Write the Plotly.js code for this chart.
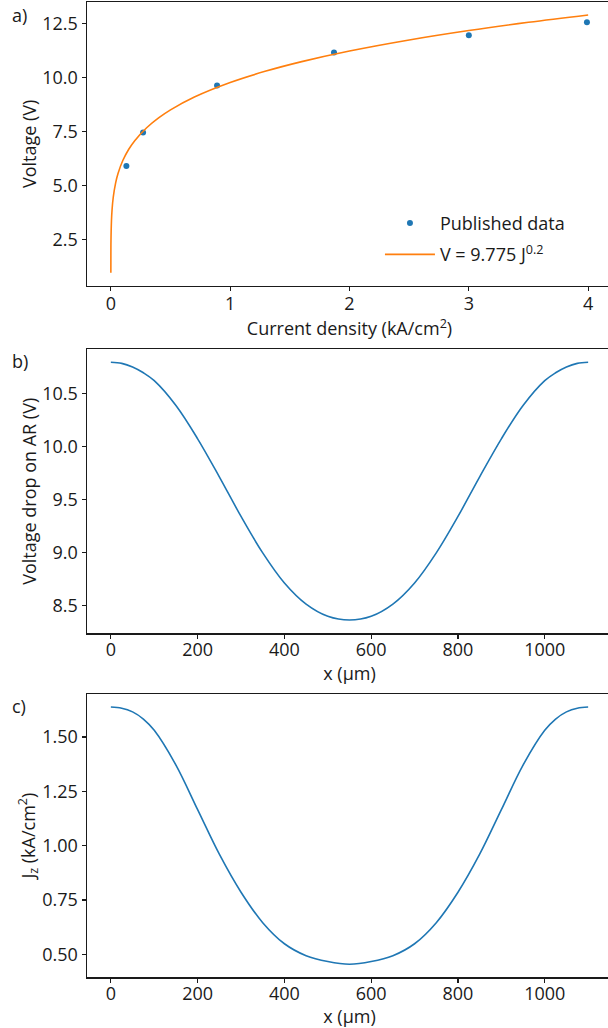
<!DOCTYPE html>
<html>
<head>
<meta charset="utf-8">
<script src="https://cdn.plot.ly/plotly-3.0.1.min.js"></script>
<style>
html,body{margin:0;padding:0;overflow:hidden;background:#fff;}
#chart{width:620px;height:1028px;}
</style>
</head>
<body>
<div id="chart"></div>
<script>
// Panel a: published data
const pubJ = [0.13, 0.27, 0.89, 1.87, 3.00, 3.99];
const pubV = [5.92, 7.46, 9.64, 11.16, 11.96, 12.56];
// Panel a: fit curve V = 9.775 J^0.2
const fitJ = [0.00001, 0.0001, 0.001, 0.005, 0.01, 0.02, 0.04, 0.06, 0.1, 0.15, 0.2, 0.3, 0.4, 0.5, 0.7, 1.0, 1.3, 1.6, 2.0, 2.5, 3.0, 3.5, 4.0];
const fitV = [0.978, 1.549, 2.455, 3.388, 3.892, 4.470, 5.135, 5.569, 6.168, 6.689, 7.085, 7.683, 8.138, 8.510, 9.103, 9.775, 10.302, 10.739, 11.229, 11.741, 12.177, 12.558, 12.898];
// Panels b and c: position across the device (µm)
const posX = [0, 25, 50, 75, 100, 150, 200, 250, 300, 350, 400, 450, 500, 550, 600, 650, 700, 750, 800, 850, 900, 950, 1000, 1025, 1050, 1075, 1100];
const voltAR = [10.800, 10.789, 10.755, 10.700, 10.625, 10.390, 10.075, 9.715, 9.340, 8.995, 8.710, 8.510, 8.395, 8.360, 8.395, 8.510, 8.710, 8.995, 9.340, 9.715, 10.075, 10.390, 10.625, 10.700, 10.755, 10.789, 10.800];
const jz = [1.638, 1.633, 1.616, 1.583, 1.531, 1.371, 1.166, 0.961, 0.786, 0.646, 0.549, 0.494, 0.467, 0.455, 0.467, 0.494, 0.549, 0.646, 0.786, 0.961, 1.166, 1.371, 1.531, 1.583, 1.616, 1.633, 1.638];

const xTicksA = [0, 1, 2, 3, 4];
const xTicksBC = [0, 200, 400, 600, 800, 1000];

const BLUE = '#1f77b4', ORANGE = '#ff7f0e', INK = '#1a1a1a';
const FONT = 'Open Sans, Noto Sans, sans-serif';

const traces = [
  {x: pubJ, y: pubV, type: 'scatter', mode: 'markers', name: 'Published data',
   marker: {color: BLUE, size: 6}, xaxis: 'x', yaxis: 'y', legendgroup: 'g1'},
  {x: fitJ, y: fitV, type: 'scatter', mode: 'lines', name: 'V = 9.775 J<sup>0.2</sup>',
   line: {color: ORANGE, width: 1.6, shape: 'spline'}, xaxis: 'x', yaxis: 'y', legendgroup: 'g2'},
  {x: posX, y: voltAR, type: 'scatter', mode: 'lines', showlegend: false,
   line: {color: BLUE, width: 1.6, shape: 'spline'}, xaxis: 'x2', yaxis: 'y2'},
  {x: posX, y: jz, type: 'scatter', mode: 'lines', showlegend: false,
   line: {color: BLUE, width: 1.6, shape: 'spline'}, xaxis: 'x3', yaxis: 'y3'}
];

const axCommon = {
  showgrid: false, zeroline: false, showline: true, mirror: true,
  linecolor: INK, linewidth: 1.5, ticks: 'outside', ticklen: 4, tickwidth: 1.2,
  tickcolor: INK, tickfont: {family: FONT, size: 18, color: INK}
};
function ax(extra) { return Object.assign({}, axCommon, extra); }
const titleFont = {family: FONT, size: 18, color: INK};

const layout = {
  width: 620, height: 1028,
  margin: {l: 87, r: 8, t: 2, b: 51},
  paper_bgcolor: '#fff', plot_bgcolor: '#fff',
  font: {family: FONT, color: INK},
  showlegend: true,
  legend: {x: 0.558, y: 0.792, xanchor: 'left', yanchor: 'top', bgcolor: 'rgba(0,0,0,0)', itemwidth: 50,
           font: {family: FONT, size: 18, color: INK}, traceorder: 'grouped', tracegroupgap: 5},
  xaxis: ax({domain: [0, 1], anchor: 'y', range: [-0.2, 4.2], tickvals: xTicksA, ticklabelstandoff: -3,
             title: {text: 'Current density (kA/cm<sup>2</sup>)', font: titleFont, standoff: 0}}),
  yaxis: ax({domain: [0.709, 1], anchor: 'x', range: [0.381, 13.496], tick0: 0, dtick: 2.5, tickformat: '.1f',
             title: {text: 'Voltage (V)', font: titleFont, standoff: 1}}),
  xaxis2: ax({domain: [0, 1], anchor: 'y2', range: [-55, 1155], tickvals: xTicksBC, ticklabelstandoff: -4,
             title: {text: 'x (μm)', font: titleFont, standoff: 0}}),
  yaxis2: ax({domain: [0.3525, 0.6438], anchor: 'x2', range: [8.234, 10.922], tick0: 0, dtick: 0.5, tickformat: '.1f',
             title: {text: 'Voltage drop on AR (V)', font: titleFont, standoff: 1}}),
  xaxis3: ax({domain: [0, 1], anchor: 'y3', range: [-55, 1155], tickvals: xTicksBC, ticklabelstandoff: -4,
             title: {text: 'x (μm)', font: titleFont, standoff: 0}}),
  yaxis3: ax({domain: [0, 0.29], anchor: 'x3', range: [0.396, 1.697], tick0: 0, dtick: 0.25, tickformat: '.2f',
             title: {text: 'J<sub>z</sub> (kA/cm<sup>2</sup>)', font: titleFont, standoff: 0}}),
  annotations: [
    {text: 'a)', xref: 'paper', yref: 'paper', x: -0.129, y: 0.9867, xanchor: 'center', yanchor: 'middle', showarrow: false, font: {family: FONT, size: 18, color: INK}},
    {text: 'b)', xref: 'paper', yref: 'paper', x: -0.127, y: 0.6318, xanchor: 'center', yanchor: 'middle', showarrow: false, font: {family: FONT, size: 18, color: INK}},
    {text: 'c)', xref: 'paper', yref: 'paper', x: -0.129, y: 0.2779, xanchor: 'center', yanchor: 'middle', showarrow: false, font: {family: FONT, size: 18, color: INK}}
  ]
};

Plotly.newPlot('chart', traces, layout, {staticPlot: true, displayModeBar: false});
</script>
</body>
</html>
